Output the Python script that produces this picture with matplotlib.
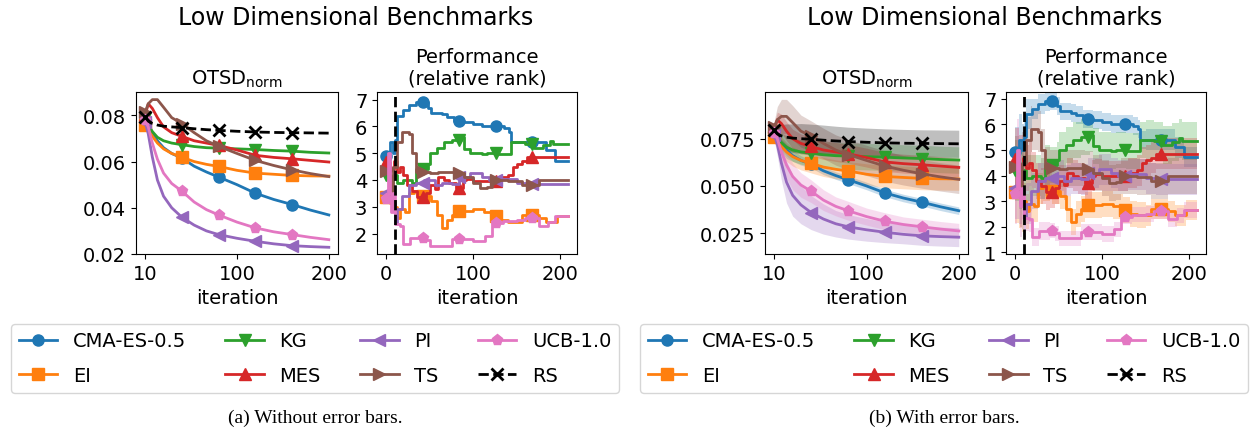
import numpy as np
import matplotlib
matplotlib.use("Agg")
import matplotlib.pyplot as plt

plt.rcParams['font.family'] = ['DejaVu Sans']

# ---- data ----
methods = ["CMA-ES-0.5", "EI", "KG", "MES", "PI", "TS", "UCB-1.0", "RS"]
colors = ["tab:blue", "tab:orange", "tab:green", "tab:red", "tab:purple", "tab:brown", "tab:pink", "black"]
markers = ["o", "s", "v", "^", "<", ">", "p", "x"]

iters = [10, 13, 17, 22, 28, 36, 46, 58, 70, 82, 100, 120, 140, 160, 180, 200]
otsd_marks = [0, 6, 9, 11, 13]

otsd_cma = [0.0771, 0.0750, 0.0720, 0.0690, 0.0660, 0.0635, 0.0615, 0.0580, 0.0555, 0.0533, 0.0500, 0.0463, 0.0436, 0.0414, 0.0390, 0.0369]
otsd_ei = [0.0757, 0.0740, 0.0710, 0.0680, 0.0655, 0.0635, 0.0619, 0.0600, 0.0588, 0.0579, 0.0562, 0.0550, 0.0545, 0.0540, 0.0538, 0.0537]
otsd_kg = [0.0790, 0.0760, 0.0730, 0.0705, 0.0690, 0.0680, 0.0673, 0.0665, 0.0660, 0.0658, 0.0655, 0.0652, 0.0648, 0.0645, 0.0640, 0.0637]
otsd_mes = [0.0800, 0.0850, 0.0830, 0.0790, 0.0750, 0.0725, 0.0709, 0.0690, 0.0680, 0.0670, 0.0650, 0.0627, 0.0618, 0.0612, 0.0605, 0.0598]
otsd_pi = [0.0771, 0.0720, 0.0620, 0.0520, 0.0450, 0.0400, 0.0359, 0.0325, 0.0300, 0.0284, 0.0268, 0.0255, 0.0244, 0.0236, 0.0232, 0.0229]
otsd_ts = [0.0814, 0.0850, 0.0868, 0.0868, 0.0835, 0.0790, 0.0764, 0.0725, 0.0690, 0.0666, 0.0635, 0.0605, 0.0583, 0.0564, 0.0548, 0.0535]
otsd_ucb = [0.0778, 0.0750, 0.0680, 0.0610, 0.0550, 0.0505, 0.0472, 0.0425, 0.0392, 0.0369, 0.0338, 0.0313, 0.0296, 0.0284, 0.0272, 0.0262]
otsd_rs = [0.0794, 0.0775, 0.0765, 0.0758, 0.0753, 0.0750, 0.0747, 0.0742, 0.0738, 0.0735, 0.0731, 0.0728, 0.0726, 0.0725, 0.0724, 0.0723]

# half widths of the shaded bands (panel b)
err_cma = [0.003, 0.003, 0.003, 0.003, 0.003, 0.0025, 0.002, 0.002, 0.002, 0.002, 0.002, 0.002, 0.002, 0.002, 0.002, 0.002]
err_ei = [0.003, 0.004, 0.005, 0.005, 0.005, 0.005, 0.005, 0.005, 0.005, 0.005, 0.0055, 0.006, 0.006, 0.006, 0.006, 0.006]
err_kg = [0.003, 0.004, 0.005, 0.006, 0.006, 0.0065, 0.007, 0.007, 0.007, 0.007, 0.007, 0.007, 0.007, 0.007, 0.007, 0.007]
err_mes = [0.003, 0.004, 0.005, 0.005, 0.005, 0.005, 0.005, 0.005, 0.005, 0.005, 0.005, 0.005, 0.005, 0.005, 0.005, 0.005]
err_pi = [0.003, 0.006, 0.009, 0.011, 0.011, 0.010, 0.009, 0.008, 0.007, 0.0065, 0.006, 0.0055, 0.005, 0.005, 0.005, 0.005]
err_ts = [0.003, 0.007, 0.009, 0.009, 0.009, 0.0085, 0.008, 0.008, 0.008, 0.008, 0.008, 0.008, 0.0078, 0.0076, 0.0075, 0.0075]
err_ucb = [0.003, 0.005, 0.006, 0.007, 0.007, 0.0065, 0.006, 0.0055, 0.005, 0.005, 0.0045, 0.0045, 0.004, 0.004, 0.004, 0.004]
err_rs = [0.003, 0.005, 0.006, 0.007, 0.0075, 0.008, 0.008, 0.008, 0.0078, 0.0076, 0.0075, 0.0074, 0.0073, 0.0072, 0.0072, 0.0072]

# relative rank, as step breakpoints (iteration, value)
rank_cma_x = [0, 4, 8, 10, 12, 20, 26, 34, 48, 52, 64, 70, 78, 90, 100, 110, 136, 141, 144, 172, 184, 194]
rank_cma_y = [4.9, 5.4, 5.0, 5.5, 6.4, 6.6, 6.8, 6.9, 6.7, 6.5, 6.45, 6.35, 6.2, 6.15, 6.1, 6.0, 5.95, 5.8, 5.4, 5.4, 5.1, 4.72]
rank_ei_x = [0, 4, 8, 12, 16, 22, 26, 32, 42, 52, 58, 64, 70, 76, 80, 100, 112, 124, 132, 140, 156, 176, 184, 196]
rank_ei_y = [3.35, 3.15, 3.0, 2.6, 2.9, 2.8, 3.5, 3.6, 3.4, 3.2, 2.7, 2.2, 2.5, 2.7, 2.85, 2.9, 2.8, 2.65, 2.5, 2.45, 2.7, 2.6, 2.45, 2.65]
rank_kg_x = [0, 4, 8, 12, 20, 30, 34, 48, 50, 58, 66, 76, 86, 90, 96, 110, 116, 128, 144, 160, 170, 180, 188, 192]
rank_kg_y = [4.2, 3.9, 4.2, 3.9, 4.0, 3.9, 4.4, 4.6, 5.0, 5.2, 5.4, 5.5, 5.6, 5.15, 5.0, 4.95, 5.0, 4.95, 5.4, 5.35, 5.2, 5.3, 5.45, 5.35]
rank_mes_x = [0, 5, 9, 12, 16, 20, 24, 30, 36, 46, 50, 56, 60, 66, 72, 80, 88, 92, 100, 130, 140, 146, 150, 156, 162]
rank_mes_y = [4.66, 4.4, 4.7, 4.3, 4.5, 4.2, 3.8, 3.6, 3.35, 3.5, 3.8, 3.65, 4.1, 4.0, 3.9, 3.7, 4.0, 4.05, 3.98, 4.1, 4.2, 4.5, 4.6, 4.7, 4.85]
rank_pi_x = [0, 4, 8, 10, 13, 18, 26, 34, 44, 56, 64, 76, 84, 96, 110, 118, 130, 150, 162]
rank_pi_y = [3.5, 3.3, 3.1, 2.4, 2.9, 3.4, 3.8, 3.9, 4.0, 3.8, 3.9, 3.85, 4.1, 4.25, 4.1, 4.0, 4.05, 3.9, 3.85]
rank_ts_x = [0, 4, 6, 8, 12, 18, 26, 30, 34, 50, 60, 80, 90, 100, 108, 116, 122, 140, 156, 176]
rank_ts_y = [4.35, 4.1, 3.2, 4.5, 5.4, 5.8, 5.7, 5.0, 4.3, 4.25, 4.3, 4.25, 4.1, 3.9, 3.7, 3.75, 4.0, 3.95, 3.8, 4.0]
rank_ucb_x = [0, 2, 4, 6, 8, 10, 16, 20, 28, 46, 50, 76, 100, 114, 122, 134, 150, 160, 176, 186, 194]
rank_ucb_y = [3.3, 5.0, 3.5, 2.8, 3.5, 2.35, 2.3, 1.6, 1.85, 1.75, 1.55, 1.8, 1.72, 1.9, 2.4, 2.47, 2.5, 2.6, 2.3, 2.45, 2.65]

# half widths of rank bands (panel b), as step breakpoints
rank_err_x = [0, 10, 20, 40, 100, 150]
rank_err_cma = [1.0, 0.6, 0.4, 0.35, 0.35, 0.4]
rank_err_ei = [1.2, 0.7, 0.6, 0.5, 0.5, 0.4]
rank_err_kg = [1.2, 0.9, 0.8, 0.7, 0.7, 0.75]
rank_err_mes = [1.2, 0.9, 0.7, 0.6, 0.6, 0.6]
rank_err_pi = [1.2, 0.8, 0.7, 0.6, 0.6, 0.6]
rank_err_ts = [1.2, 0.9, 0.8, 0.7, 0.7, 0.7]
rank_err_ucb = [1.2, 0.5, 0.35, 0.3, 0.3, 0.3]

otsd = [otsd_cma, otsd_ei, otsd_kg, otsd_mes, otsd_pi, otsd_ts, otsd_ucb, otsd_rs]
otsd_err = [err_cma, err_ei, err_kg, err_mes, err_pi, err_ts, err_ucb, err_rs]
ranks = [(rank_cma_x, rank_cma_y), (rank_ei_x, rank_ei_y), (rank_kg_x, rank_kg_y),
         (rank_mes_x, rank_mes_y), (rank_pi_x, rank_pi_y), (rank_ts_x, rank_ts_y),
         (rank_ucb_x, rank_ucb_y)]
rank_err = [rank_err_cma, rank_err_ei, rank_err_kg, rank_err_mes, rank_err_pi, rank_err_ts, rank_err_ucb]

rank_iters = np.arange(0, 210)


def expand(bx, by):
    idx = np.searchsorted(bx, rank_iters, side="right") - 1
    return np.asarray(by)[idx]


# x scale of the OTSD panels: 10 -> 100 -> 200 evenly spaced
def fwd(x):
    x = np.asarray(x, dtype=float)
    return np.where(x <= 100, (x - 10) / 90.0, 1 + (x - 100) / 100.0)


def inv(t):
    t = np.asarray(t, dtype=float)
    return np.where(t <= 1, 10 + 90 * t, 100 + 100 * (t - 1))


W, H = 1258, 435
fig = plt.figure(figsize=(W / 100, H / 100), dpi=100)


def box(x0, x1, y0, y1):
    return [x0 / W, 1 - y1 / H, (x1 - x0) / W, (y1 - y0) / H]


groups = [
    dict(ax1=box(136, 338, 93, 255), ax2=box(377, 577, 93, 255), center=356, lcenter=315,
         err=False, ylim1=(0.02, 0.0901), yt1=[0.02, 0.04, 0.06, 0.08], ylim2=(1.24, 7.28),
         yt2=[2, 3, 4, 5, 6, 7], caption="(a) Without error bars."),
    dict(ax1=box(765, 968, 93, 255), ax2=box(1006, 1206, 93, 255), center=985, lcenter=944,
         err=True, ylim1=(0.014, 0.0997), yt1=[0.025, 0.050, 0.075], ylim2=(0.94, 7.26),
         yt2=[1, 2, 3, 4, 5, 6, 7], caption="(b) With error bars."),
]

fs = 14

for g in groups:
    ax1 = fig.add_axes(g["ax1"])
    ax2 = fig.add_axes(g["ax2"])
    ax1.set_xscale("function", functions=(fwd, inv))

    for i, m in enumerate(methods):
        ls = "--" if m == "RS" else "-"
        mk = dict(marker=markers[i], markersize=8, markevery=otsd_marks)
        if m == "RS":
            mk.update(markeredgewidth=2)
        ax1.plot(iters, otsd[i], color=colors[i], ls=ls, lw=2, label=m, **mk)
        if g["err"]:
            y = np.array(otsd[i])
            e = np.array(otsd_err[i])
            ax1.fill_between(iters, y - e, y + e, color=colors[i], alpha=0.25, lw=0)

    for i, (bx, by) in enumerate(ranks):
        y = expand(bx, by)
        ax2.plot(rank_iters, y, color=colors[i], lw=2, drawstyle="steps-post",
                 marker=markers[i], markersize=8, markevery=42)
        if g["err"]:
            e = expand(rank_err_x, rank_err[i])
            ax2.fill_between(rank_iters, y - e, y + e, color=colors[i], alpha=0.25,
                             lw=0, step="post")
    ax2.axvline(10, color="black", ls="--", lw=2, zorder=5)

    ax1.set_xticks([10, 100, 200])
    ax1.set_xticklabels(["10", "100", "200"])
    ax1.set_xlim(inv(-0.1), inv(2.1))
    ax1.set_ylim(*g["ylim1"])
    ax1.set_yticks(g["yt1"])
    if g["err"]:
        ax1.set_yticklabels(["0.025", "0.050", "0.075"])
    ax1.set_title(r"OTSD$_\mathregular{norm}$", fontsize=fs)
    ax1.set_xlabel("iteration", fontsize=fs)

    ax2.set_xlim(-10.45, 219.45)
    ax2.set_xticks([0, 100, 200])
    ax2.set_ylim(*g["ylim2"])
    ax2.set_yticks(g["yt2"])
    ax2.set_title("Performance\n(relative rank)", fontsize=fs)
    ax2.set_xlabel("iteration", fontsize=fs)

    for ax in (ax1, ax2):
        ax.tick_params(labelsize=fs)

    fig.text(g["center"] / W, 1 - 18 / H, "Low Dimensional Benchmarks", ha="center",
             va="center", fontsize=17)

    handles, labels = ax1.get_legend_handles_labels()
    fig.legend(handles[:8], labels[:8], ncol=4, loc="upper center",
               bbox_to_anchor=(g["lcenter"] / W, 1 - 315 / H), fontsize=fs,
               handlelength=2.0, columnspacing=2.0, labelspacing=0.8)

    fig.text(g["lcenter"] / W, 1 - 418 / H, g["caption"], ha="center", va="center",
             fontsize=14, family="Liberation Serif")

fig.savefig("out.png", dpi=100)
